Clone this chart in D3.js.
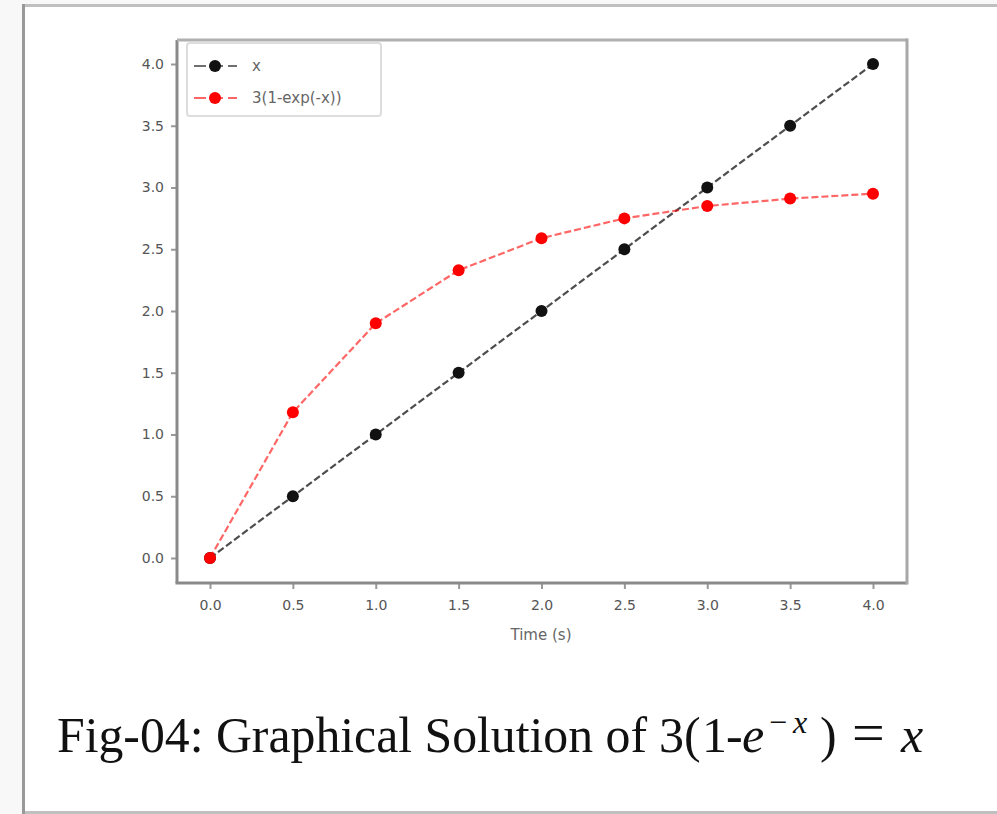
<!DOCTYPE html>
<html><head><meta charset="utf-8">
<script src="https://cdn.jsdelivr.net/npm/d3@7"></script>
<style>
html,body{margin:0;padding:0;background:#f8f8f8;}
svg{display:block;}
</style></head>
<body>
<svg id="chart" width="997" height="814"></svg>
<script>
const times = [0, 0.5, 1.0, 1.5, 2.0, 2.5, 3.0, 3.5, 4.0];
const seriesX = [0, 0.5, 1.0, 1.5, 2.0, 2.5, 3.0, 3.5, 4.0];
const seriesExp = [0, 1.18, 1.90, 2.33, 2.59, 2.75, 2.85, 2.91, 2.95];
const xTicks = [0, 0.5, 1.0, 1.5, 2.0, 2.5, 3.0, 3.5, 4.0];
const yTicks = [0, 0.5, 1.0, 1.5, 2.0, 2.5, 3.0, 3.5, 4.0];
const legendLabels = ["x", "3(1-exp(-x))"];

const svg = d3.select("#chart");
// frame
svg.append("rect").attr("x",22).attr("y",4).attr("width",980).attr("height",815).attr("fill","#fff");
svg.append("line").attr("x1",22).attr("x2",997).attr("y1",5.5).attr("y2",5.5).attr("stroke","#c0c0c0").attr("stroke-width",3);
svg.append("line").attr("x1",22).attr("x2",997).attr("y1",812.5).attr("y2",812.5).attr("stroke","#c0c0c0").attr("stroke-width",3);
svg.append("line").attr("x1",23.5).attr("x2",23.5).attr("y1",4).attr("y2",814).attr("stroke","#999").attr("stroke-width",3);

const L=177, R=907, T=40, B=583;
const x = d3.scaleLinear().domain([0,4]).range([210,873]);
const y = d3.scaleLinear().domain([0,4]).range([558,64]);

const fmt = d3.format(".1f");
const xAxis = svg.append("g").attr("transform",`translate(0,${B})`)
  .call(d3.axisBottom(x).tickValues(xTicks).tickFormat(fmt).tickSize(6).tickSizeOuter(0));
const yAxis = svg.append("g").attr("transform",`translate(${L},0)`)
  .call(d3.axisLeft(y).tickValues(yTicks).tickFormat(fmt).tickSize(6).tickSizeOuter(0));
[xAxis,yAxis].forEach(a=>{
  a.select(".domain").remove();
  a.selectAll(".tick line").attr("stroke","#999").attr("stroke-width",2);
  a.selectAll(".tick text").attr("fill","#555").style("font-family","DejaVu Sans").style("font-size","14px");
});
xAxis.selectAll(".tick text").attr("y",17).attr("dy","0.71em");
yAxis.selectAll(".tick text").attr("x",-13);

// spines
svg.append("line").attr("x1",L).attr("x2",L).attr("y1",T).attr("y2",B).attr("stroke","#8a8a8a").attr("stroke-width",3);
svg.append("line").attr("x1",L-1.5).attr("x2",R).attr("y1",B).attr("y2",B).attr("stroke","#8a8a8a").attr("stroke-width",3);
svg.append("line").attr("x1",L).attr("x2",R).attr("y1",T).attr("y2",T).attr("stroke","#b0b0b0").attr("stroke-width",3);
svg.append("line").attr("x1",R).attr("x2",R).attr("y1",T-1.5).attr("y2",B+1.5).attr("stroke","#a8a8a8").attr("stroke-width",3);

const line = d3.line().x(d=>x(d[0])).y(d=>y(d[1]));
function drawSeries(vals,color,opacity){
  const pts = times.map((t,i)=>[t,vals[i]]);
  svg.append("path").datum(pts).attr("d",line).attr("fill","none")
    .attr("stroke",color).attr("stroke-width",2.2).attr("stroke-dasharray","7,3").attr("opacity",opacity);
  svg.append("g").selectAll("circle").data(pts).join("circle")
    .attr("cx",d=>x(d[0])).attr("cy",d=>y(d[1])).attr("r",6).attr("fill",color);
}
drawSeries(seriesX,"#111",0.75);
drawSeries(seriesExp,"#ff0000",0.6);

// legend
const lg = svg.append("g");
lg.append("rect").attr("x",187).attr("y",43).attr("width",194).attr("height",73).attr("rx",3)
  .attr("fill","#fff").attr("stroke","#ddd").attr("stroke-width",2);
const colors=["#111","#ff0000"];
legendLabels.forEach((lab,i)=>{
  const yy = 66 + i*32;
  lg.append("line").attr("x1",194).attr("x2",237).attr("y1",yy).attr("y2",yy)
    .attr("stroke",colors[i]).attr("stroke-width",2.2).attr("stroke-dasharray","12,5").attr("opacity",0.6);
  lg.append("circle").attr("cx",215).attr("cy",yy).attr("r",6).attr("fill",colors[i]);
  lg.append("text").attr("x",252).attr("y",yy+5).text(lab).attr("fill","#666")
    .style("font-family","DejaVu Sans").style("font-size","15px");
});

// x label
svg.append("text").attr("x",541).attr("y",640).attr("text-anchor","middle").text("Time (s)")
  .attr("fill","#666").style("font-family","DejaVu Sans").style("font-size","15px");

// caption
const cg = svg.append("g").style("font-family","Liberation Serif").attr("fill","#111");
const base = 752;
cg.append("text").attr("x",57).attr("y",base).style("font-size","50px")
  .attr("textLength",590).attr("lengthAdjust","spacingAndGlyphs").text("Fig-04: Graphical Solution of");
const parts = [
  {t:"3", x:659, s:50, it:false, dy:0},
  {t:"(", x:684, s:50, it:false, dy:0},
  {t:"1", x:702, s:50, it:false, dy:0},
  {t:"-", x:726, s:50, it:false, dy:0},
  {t:"e", x:742, s:50, it:true, dy:0},
  {t:"−", x:769, s:32, it:false, dy:-19},
  {t:"x", x:793, s:32, it:true, dy:-19},
  {t:")", x:820, s:50, it:false, dy:0},
  {t:"=", x:852, s:58, it:false, dy:0},
  {t:"x", x:901, s:50, it:true, dy:0}
];
parts.forEach(p=>{
  cg.append("text").attr("x",p.x).attr("y",base+p.dy).style("font-size",p.s+"px")
    .style("font-style",p.it?"italic":"normal").text(p.t);
});
</script>
</body></html>
